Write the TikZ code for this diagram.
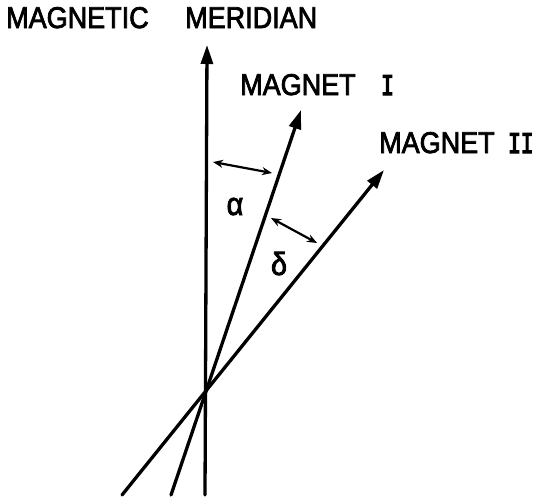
\documentclass[tikz,border=0pt]{standalone}
\usepackage{fontspec}
\setmainfont{Liberation Sans}[FakeStretch=0.9,FakeBold=2.5]
\newfontfamily\romfont{Liberation Mono}[FakeStretch=0.7,FakeBold=4]
\usetikzlibrary{arrows.meta}
\begin{document}
\begin{tikzpicture}[x=1pt,y=-1pt,>={Triangle[length=19pt,width=12pt]},
  magnet/.style={line width=3.3pt,line cap=round,->},
  angle/.style={line width=2.2pt,{Stealth[length=10pt,width=8pt]}-{Stealth[length=10pt,width=8pt]}},
  lbl/.style={font=\fontsize{30}{36}\selectfont,inner sep=0pt,anchor=base west},
  greek/.style={font=\fontsize{32}{38}\selectfont,inner sep=0pt,anchor=base}]
\useasboundingbox (0,0) rectangle (548,501);
\coordinate (o) at (205,393);
\coordinate (m0) at (205,495);
\coordinate (m1) at (207,45);
\coordinate (a0) at (171,495);
\coordinate (a1) at (301,110);
\coordinate (b0) at (122,495);
\coordinate (b1) at (384,170);
\draw[magnet] (m0)--(m1);
\draw[magnet] (a0)--(a1);
\draw[magnet] (b0)--(b1);
\node[lbl] (mer) at (6,28) {MAGNETIC\hspace{29pt} MERIDIAN};
\node[lbl] (mag1) at (240,95) {MAGNET\hspace{18pt} {\romfont I}};
\node[lbl] (mag2) at (379,153) {MAGNET\hspace{6pt} {\romfont II}};
\coordinate (p1) at (213,162);
\coordinate (p2) at (272,173);
\coordinate (q1) at (271,218);
\coordinate (q2) at (317,243);
\draw[angle] (p1)--(p2);
\draw[angle] (q1)--(q2);
\node[greek] (alpha) at (235,215) {α};
\node[greek] (delta) at (279,275) {δ};
\end{tikzpicture}
\end{document}
